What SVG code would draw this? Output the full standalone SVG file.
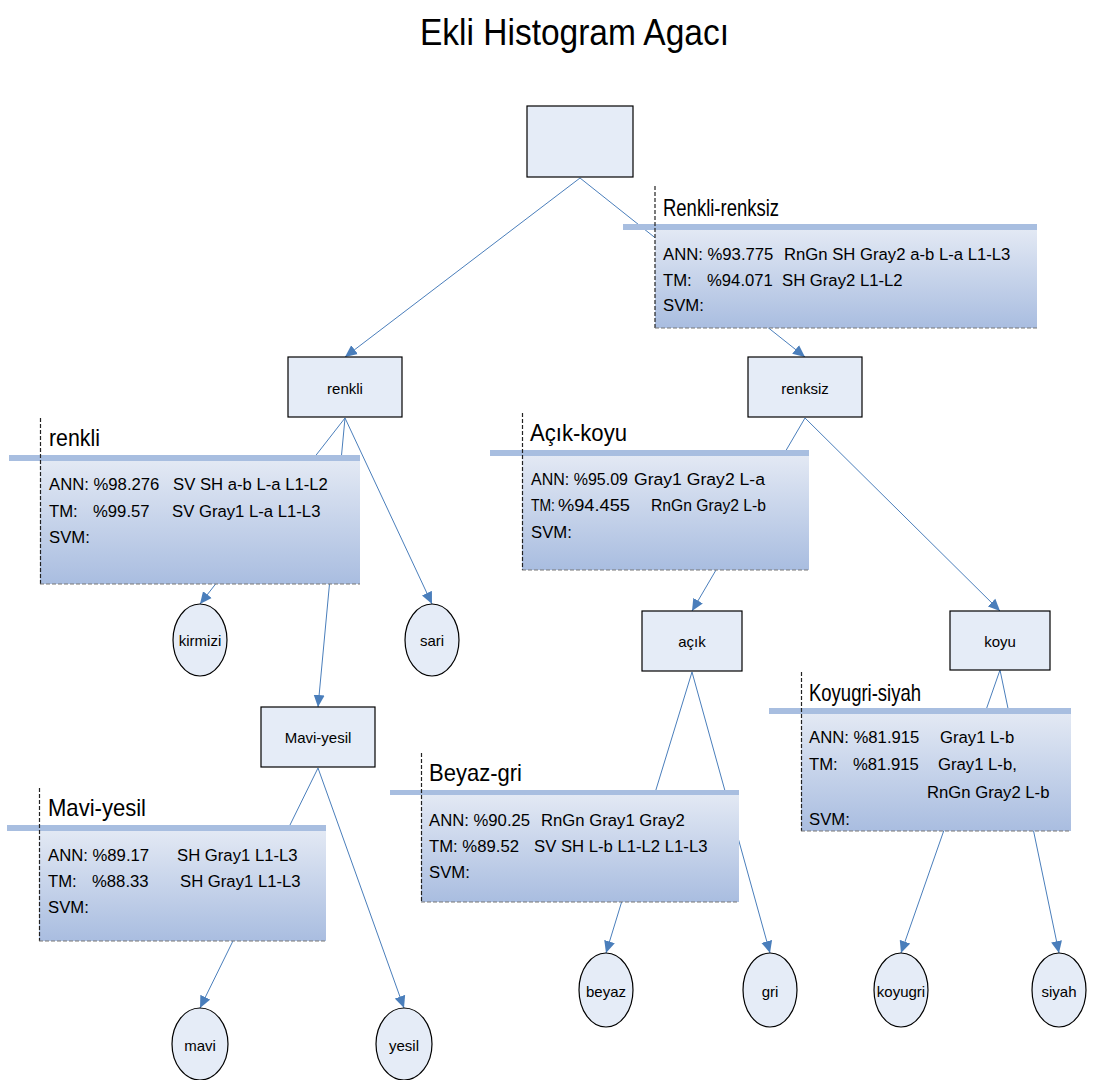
<svg xmlns="http://www.w3.org/2000/svg" width="1101" height="1080" viewBox="0 0 1101 1080">
<style>
text{font-family:"Liberation Sans",Arial,sans-serif;fill:#000;}
.title{font-size:36px;}
.lbl{font-size:15px;text-anchor:middle;}
.body{font-size:16.7px;white-space:pre;}
.ct{font-size:24px;}
.box{fill:#e5ecf7;stroke:#000;stroke-width:1.2;}
.conn{stroke:#4a7ebb;stroke-width:1;fill:none;marker-end:url(#arr);}
.band{fill:#a8bee0;}
.cfill{fill:url(#cg);}
.dash{stroke:#222;stroke-width:1.2;stroke-dasharray:4 2;fill:none;}
.bdash{stroke:#777;stroke-width:1;stroke-dasharray:4 2;fill:none;}
</style>
<defs>
<linearGradient id="cg" x1="0" y1="0" x2="0" y2="1">
<stop offset="0" stop-color="#e3e9f4"/>
<stop offset="1" stop-color="#a9bde0"/>
</linearGradient>
<marker id="arr" markerUnits="userSpaceOnUse" markerWidth="13" markerHeight="12" refX="12" refY="6" orient="auto">
<path d="M0,0.5 L12,6 L0,11.5 Z" fill="#4a7ebb"/>
</marker>
</defs>
<rect width="1101" height="1080" fill="#fff"/>
<text class="title" x="420" y="45" textLength="309" lengthAdjust="spacingAndGlyphs">Ekli Histogram Agacı</text>

<g id="connectors">
<line class="conn" x1="580" y1="178" x2="345" y2="357"/>
<line class="conn" x1="580" y1="178" x2="805" y2="357"/>
<line class="conn" x1="345" y1="418" x2="200" y2="604"/>
<line class="conn" x1="345" y1="418" x2="318" y2="707"/>
<line class="conn" x1="345" y1="418" x2="432" y2="604"/>
<line class="conn" x1="805" y1="418" x2="692" y2="611"/>
<line class="conn" x1="805" y1="418" x2="1000" y2="611"/>
<line class="conn" x1="692" y1="672" x2="606" y2="953"/>
<line class="conn" x1="692" y1="672" x2="770" y2="953"/>
<line class="conn" x1="1000" y1="670" x2="901" y2="953"/>
<line class="conn" x1="1000" y1="670" x2="1059" y2="953"/>
<line class="conn" x1="318" y1="768" x2="200" y2="1008"/>
<line class="conn" x1="318" y1="768" x2="404" y2="1008"/>
</g>

<g id="callout-renkli-renksiz">
<rect class="cfill" x="655" y="229" width="382" height="99"/>
<rect class="band" x="623" y="224" width="414" height="6"/>
<line class="dash" x1="655" y1="186" x2="655" y2="328"/>
<line class="bdash" x1="655" y1="328" x2="1037" y2="328"/>
<text class="ct" x="663" y="216" font-size="21" textLength="116" lengthAdjust="spacingAndGlyphs">Renkli-renksiz</text>
<text class="body" x="663" y="260">ANN: %93.775</text>
<text class="body" x="784" y="260">RnGn SH Gray2 a-b L-a L1-L3</text>
<text class="body" x="663" y="286">TM:</text>
<text class="body" x="707" y="286">%94.071</text>
<text class="body" x="782" y="286">SH Gray2 L1-L2</text>
<text class="body" x="663" y="311">SVM:</text>
</g>

<g id="callout-renkli">
<rect class="cfill" x="40" y="460" width="320" height="124"/>
<rect class="band" x="9" y="455" width="351" height="6"/>
<line class="dash" x1="40.5" y1="418" x2="40.5" y2="584"/>
<line class="bdash" x1="40" y1="584" x2="360" y2="584"/>
<text class="ct" x="49" y="446" font-size="26" textLength="51" lengthAdjust="spacingAndGlyphs">renkli</text>
<text class="body" x="49" y="490">ANN: %98.276</text>
<text class="body" x="173" y="490">SV SH a-b L-a L1-L2</text>
<text class="body" x="49" y="517">TM:</text>
<text class="body" x="93" y="517">%99.57</text>
<text class="body" x="172" y="517">SV Gray1 L-a L1-L3</text>
<text class="body" x="49" y="543">SVM:</text>
</g>

<g id="callout-acik-koyu">
<rect class="cfill" x="522" y="455" width="287" height="115"/>
<rect class="band" x="490" y="450" width="319" height="6"/>
<line class="dash" x1="522.5" y1="413" x2="522.5" y2="570"/>
<line class="bdash" x1="522" y1="570" x2="809" y2="570"/>
<text class="ct" x="530" y="441" font-size="27" textLength="97" lengthAdjust="spacingAndGlyphs">Açık-koyu</text>
<text class="body" x="531" y="485" textLength="97" lengthAdjust="spacingAndGlyphs">ANN: %95.09</text>
<text class="body" x="634" y="485" textLength="131" lengthAdjust="spacingAndGlyphs">Gray1 Gray2 L-a</text>
<text class="body" x="531" y="511" textLength="24" lengthAdjust="spacingAndGlyphs">TM:</text>
<text class="body" x="558" y="511" textLength="72" lengthAdjust="spacingAndGlyphs">%94.455</text>
<text class="body" x="651" y="511" textLength="115" lengthAdjust="spacingAndGlyphs">RnGn Gray2 L-b</text>
<text class="body" x="531" y="538">SVM:</text>
</g>

<g id="callout-koyugri-siyah">
<rect class="cfill" x="801" y="713" width="270" height="118"/>
<rect class="band" x="769" y="708" width="302" height="6"/>
<line class="dash" x1="801.5" y1="672" x2="801.5" y2="831"/>
<line class="bdash" x1="801" y1="831" x2="1071" y2="831"/>
<text class="ct" x="809" y="701" font-size="22" textLength="112" lengthAdjust="spacingAndGlyphs">Koyugri-siyah</text>
<text class="body" x="809" y="743">ANN: %81.915</text>
<text class="body" x="940" y="743">Gray1 L-b</text>
<text class="body" x="809" y="770">TM:</text>
<text class="body" x="853" y="770">%81.915</text>
<text class="body" x="938" y="770">Gray1 L-b,</text>
<text class="body" x="927" y="798">RnGn Gray2 L-b</text>
<text class="body" x="809" y="825">SVM:</text>
</g>

<g id="callout-beyaz-gri">
<rect class="cfill" x="421" y="794" width="318" height="108"/>
<rect class="band" x="390" y="790" width="349" height="5"/>
<line class="dash" x1="421.5" y1="753" x2="421.5" y2="902"/>
<line class="bdash" x1="421" y1="902" x2="739" y2="902"/>
<text class="ct" x="429" y="781" font-size="27" textLength="93" lengthAdjust="spacingAndGlyphs">Beyaz-gri</text>
<text class="body" x="429" y="826">ANN: %90.25</text>
<text class="body" x="541" y="826">RnGn Gray1 Gray2</text>
<text class="body" x="429" y="852">TM: %89.52</text>
<text class="body" x="534" y="852">SV SH L-b L1-L2 L1-L3</text>
<text class="body" x="429" y="878">SVM:</text>
</g>

<g id="callout-mavi-yesil">
<rect class="cfill" x="39" y="830" width="287" height="111"/>
<rect class="band" x="7" y="825" width="319" height="6"/>
<line class="dash" x1="39.5" y1="788" x2="39.5" y2="941"/>
<line class="bdash" x1="39" y1="941" x2="326" y2="941"/>
<text class="ct" x="48" y="816" font-size="26" textLength="98" lengthAdjust="spacingAndGlyphs">Mavi-yesil</text>
<text class="body" x="48" y="861">ANN: %89.17</text>
<text class="body" x="177" y="861">SH Gray1 L1-L3</text>
<text class="body" x="48" y="887">TM:</text>
<text class="body" x="92" y="887">%88.33</text>
<text class="body" x="180" y="887">SH Gray1 L1-L3</text>
<text class="body" x="48" y="913">SVM:</text>
</g>

<g id="node-root"><rect class="box" x="527" y="106" width="106" height="71"/></g>
<g id="node-renkli"><rect class="box" x="288" y="357" width="114" height="60"/><text class="lbl" x="345" y="394">renkli</text></g>
<g id="node-renksiz"><rect class="box" x="748" y="357" width="114" height="60"/><text class="lbl" x="805" y="394">renksiz</text></g>
<g id="node-mavi-yesil"><rect class="box" x="261" y="707" width="114" height="60"/><text class="lbl" x="318" y="743">Mavi-yesil</text></g>
<g id="node-acik"><rect class="box" x="642" y="611" width="100" height="60"/><text class="lbl" x="692" y="647">açık</text></g>
<g id="node-koyu"><rect class="box" x="950" y="611" width="100" height="59"/><text class="lbl" x="1000" y="647">koyu</text></g>

<g id="node-kirmizi"><ellipse class="box" cx="200" cy="640" rx="27" ry="36"/><text class="lbl" x="200" y="646">kirmizi</text></g>
<g id="node-sari"><ellipse class="box" cx="432" cy="640" rx="27" ry="36"/><text class="lbl" x="432" y="646">sari</text></g>
<g id="node-mavi"><ellipse class="box" cx="200" cy="1044" rx="28" ry="36"/><text class="lbl" x="200" y="1051">mavi</text></g>
<g id="node-yesil"><ellipse class="box" cx="404" cy="1044" rx="28" ry="36"/><text class="lbl" x="404" y="1051">yesil</text></g>
<g id="node-beyaz"><ellipse class="box" cx="606" cy="990" rx="27" ry="37"/><text class="lbl" x="606" y="997">beyaz</text></g>
<g id="node-gri"><ellipse class="box" cx="770" cy="990" rx="27" ry="37"/><text class="lbl" x="770" y="997">gri</text></g>
<g id="node-koyugri"><ellipse class="box" cx="901" cy="990" rx="27" ry="37"/><text class="lbl" x="901" y="997">koyugri</text></g>
<g id="node-siyah"><ellipse class="box" cx="1059" cy="990" rx="27" ry="37"/><text class="lbl" x="1059" y="997">siyah</text></g>
</svg>
